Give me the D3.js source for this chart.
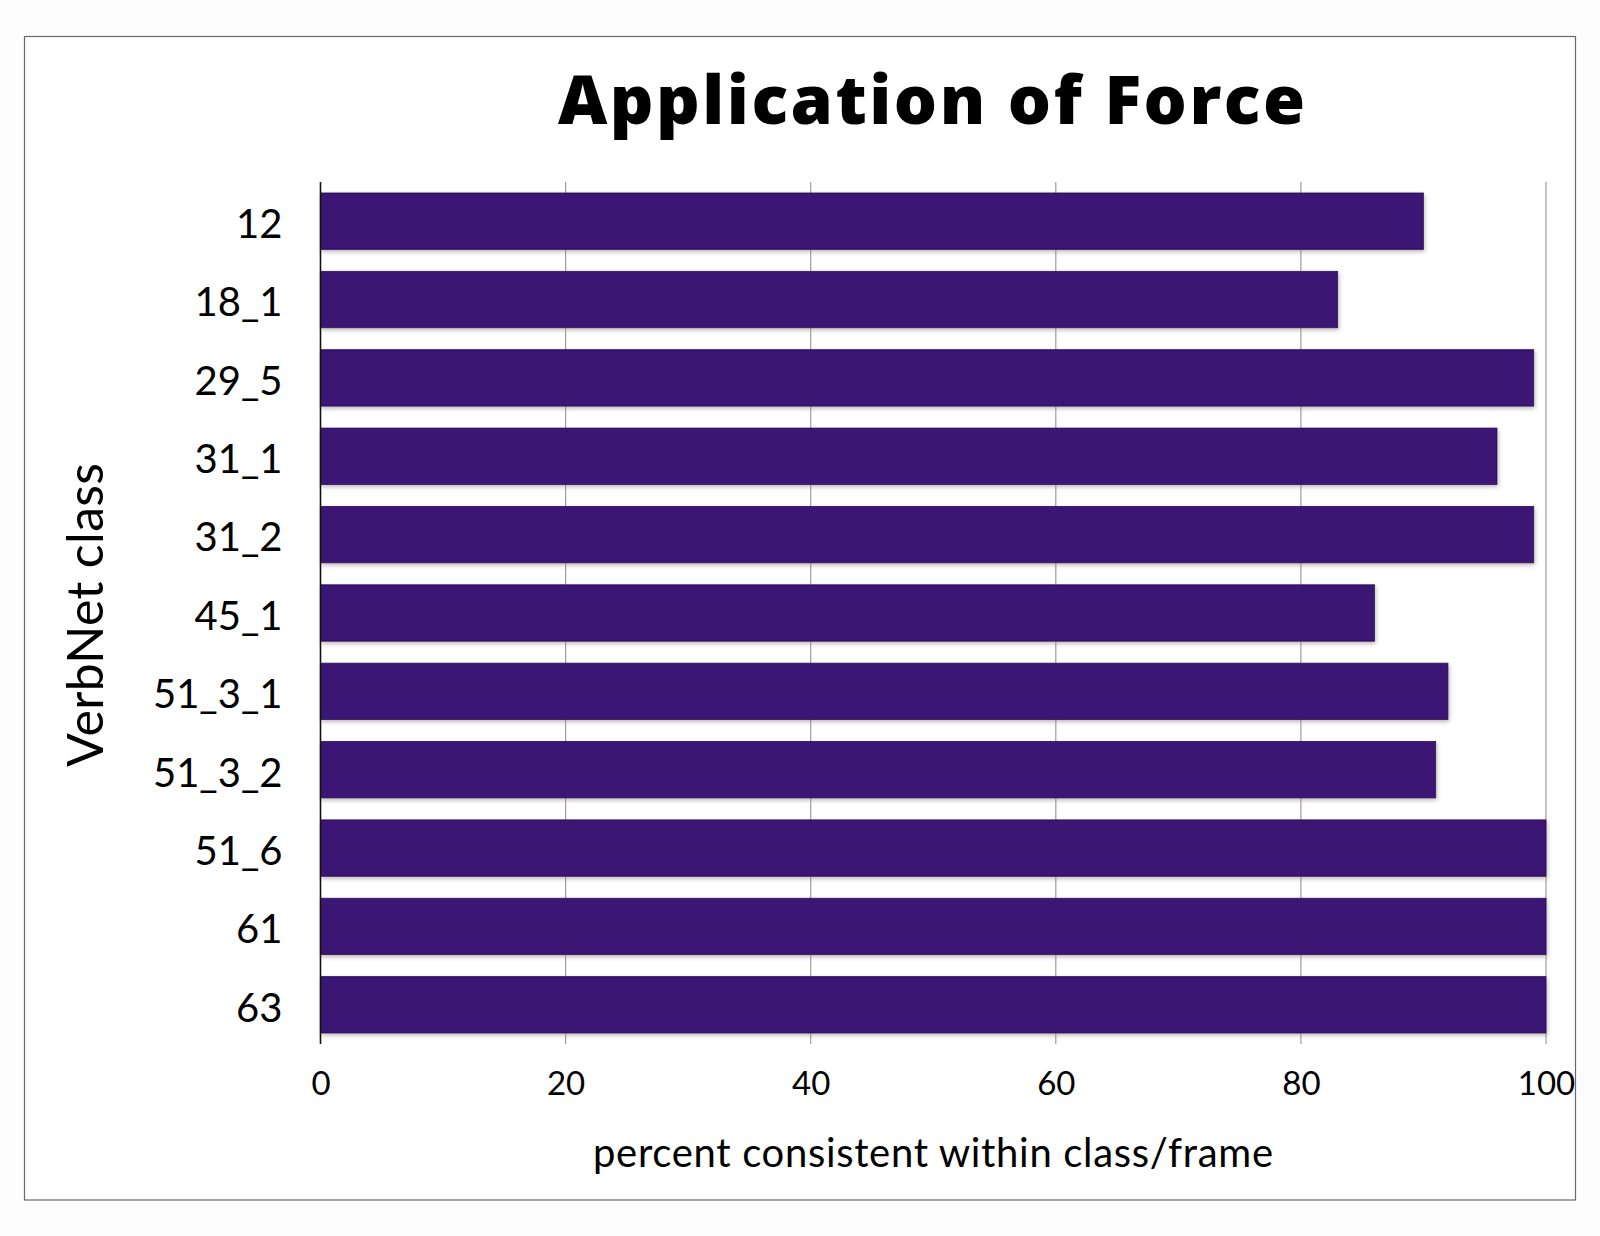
<!DOCTYPE html>
<html>
<head>
<meta charset="utf-8">
<script src="https://cdn.jsdelivr.net/npm/d3@7"></script>
<style>
  html, body { margin: 0; padding: 0; background: #fdfdfd; }
  svg { display: block; }
  text { font-family: Lato, "Open Sans", sans-serif; fill: #000; font-variant-ligatures: none; }
</style>
</head>
<body>
<svg id="chart" width="1600" height="1236"></svg>
<script>
// ---- data ----
const categories = ["12", "18_1", "29_5", "31_1", "31_2", "45_1", "51_3_1", "51_3_2", "51_6", "61", "63"];
const values = [90, 83, 99, 96, 99, 86, 92, 91, 100, 100, 100];
const xTicks = [0, 20, 40, 60, 80, 100];
const titleText = "Application of Force";
const xTitleText = "percent consistent within class/frame";
const yTitleText = "VerbNet class";

// ---- layout ----
const plot = { left: 320.5, right: 1546, top: 182, bottom: 1044 };

const svg = d3.select("#chart");

const defs = svg.append("defs");
const f = defs.append("filter").attr("id", "shadow")
  .attr("x", "-5%").attr("y", "-30%").attr("width", "110%").attr("height", "160%");
f.append("feDropShadow").attr("dx", 1).attr("dy", 2).attr("stdDeviation", 2)
  .attr("flood-color", "#8a7a80").attr("flood-opacity", 0.55);

// outer frame
svg.append("rect").attr("x", 24.5).attr("y", 36.5).attr("width", 1551).attr("height", 1163.5)
  .attr("fill", "#ffffff").attr("stroke", "#6b6866").attr("stroke-width", 1.2);

const x = d3.scaleLinear().domain([0, 100]).range([plot.left, plot.right]);
const y = d3.scaleBand().domain(categories).range([plot.top, plot.bottom])
  .paddingInner(0.28).paddingOuter(0.14).align(0.5);

// gridlines
svg.append("g").selectAll("line").data(xTicks.filter(t => t > 0)).join("line")
  .attr("x1", d => x(d)).attr("x2", d => x(d))
  .attr("y1", plot.top).attr("y2", plot.bottom)
  .attr("stroke", "#a09c9c").attr("stroke-width", 1.2);

// bars
svg.append("g").selectAll("rect").data(categories).join("rect")
  .attr("x", x(0))
  .attr("y", d => y(d))
  .attr("width", (d, i) => x(values[i]) - x(0))
  .attr("height", y.bandwidth())
  .attr("fill", "#3a1274")
  .attr("stroke", "#2c0d5a").attr("stroke-width", 0.8)
  .attr("filter", "url(#shadow)");

// y axis line
svg.append("line").attr("x1", plot.left).attr("x2", plot.left)
  .attr("y1", plot.top).attr("y2", plot.bottom)
  .attr("stroke", "#111").attr("stroke-width", 1.6);

// x axis via d3 axis (labels only)
const xAxis = svg.append("g").attr("transform", `translate(0,${plot.bottom})`)
  .call(d3.axisBottom(x).tickValues(xTicks).tickSize(0).tickPadding(0).tickFormat(d3.format("d")));
xAxis.select(".domain").remove();
xAxis.selectAll("text")
  .attr("y", 51).attr("dy", null)
  .style("font-family", "Lato, sans-serif")
  .style("font-size", "33px").style("fill", "#000");

// y axis labels
const yAxis = svg.append("g").attr("transform", `translate(${plot.left},0)`)
  .call(d3.axisLeft(y).tickSize(0).tickPadding(38));
yAxis.select(".domain").remove();
yAxis.selectAll("text")
  .attr("dy", "0.42em")
  .style("font-family", "Lato, sans-serif")
  .style("font-size", "40px").style("fill", "#000");

// title
svg.append("text").attr("x", 931.5).attr("y", 124)
  .attr("text-anchor", "middle")
  .attr("textLength", 747).attr("lengthAdjust", "spacing")
  .style("font-family", "'Open Sans', sans-serif")
  .style("font-weight", 800).style("font-size", "68px").text(titleText);

// x title
svg.append("text").attr("x", 933).attr("y", 1167)
  .attr("text-anchor", "middle")
  .attr("textLength", 680).attr("lengthAdjust", "spacing")
  .style("font-size", "40px").text(xTitleText);

// y title
svg.append("text").attr("transform", "translate(103,615) rotate(-90)")
  .attr("text-anchor", "middle")
  .attr("textLength", 304).attr("lengthAdjust", "spacing")
  .style("font-size", "50px").text(yTitleText);
</script>
</body>
</html>
